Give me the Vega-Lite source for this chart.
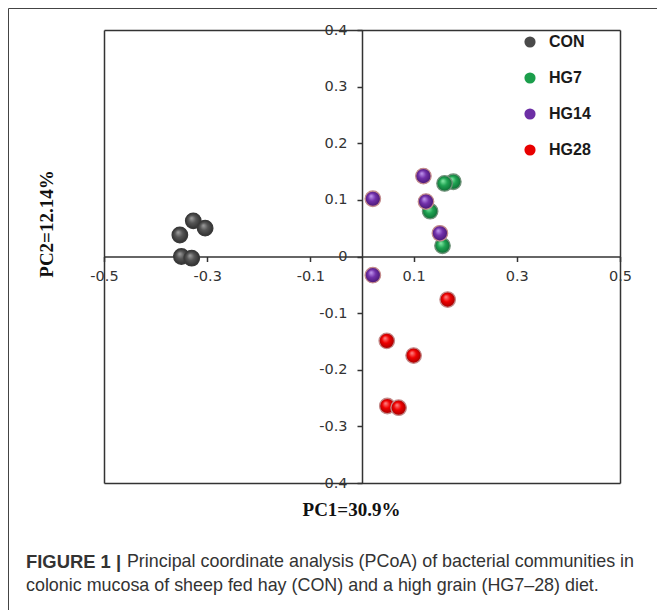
{
  "$schema": "https://vega.github.io/schema/vega-lite/v6.json",
  "autosize": {"type": "none"},
  "padding": {"left": 8, "top": 8, "right": 0, "bottom": 0},
  "width": 649,
  "height": 602,
  "background": "white",
  "view": {"stroke": "#444444", "strokeWidth": 1, "fill": "white"},
  "config": {
    "view": {"stroke": "#444444", "strokeWidth": 1},
    "axis": {
      "grid": false,
      "domainColor": "#333333",
      "domainWidth": 1.5,
      "tickColor": "#333333",
      "tickWidth": 1.5,
      "tickSize": 5,
      "labelFont": "DejaVu Sans",
      "labelFontSize": 14.5,
      "labelColor": "#333333",
      "labelFlush": false,
      "labelOverlap": false,
      "labelBound": false,
      "titleFont": "Liberation Serif",
      "titleFontWeight": "bold",
      "titleFontSize": 19,
      "titleColor": "#111111"
    }
  },
  "title": {
    "text": "FIGURE 1 |",
    "subtitle": [
      "\u200b\u00a0\u00a0\u00a0\u00a0\u00a0\u00a0\u00a0\u00a0\u00a0\u00a0\u00a0\u00a0\u00a0\u00a0\u00a0\u00a0\u00a0\u00a0\u00a0\u00a0\u200aPrincipal coordinate analysis (PCoA) of bacterial communities in",
      "colonic mucosa of sheep fed hay (CON) and a high grain (HG7\u201328) diet."
    ],
    "orient": "bottom",
    "frame": "group",
    "anchor": "start",
    "offset": -57,
    "dx": 18,
    "font": "Liberation Sans",
    "fontSize": 18.4,
    "fontWeight": "bold",
    "color": "#333333",
    "subtitleFont": "Liberation Sans",
    "subtitleFontSize": 17.9,
    "subtitleColor": "#333333",
    "subtitleLineHeight": 23.5,
    "subtitlePadding": -18.2
  },
  "data": {
    "values": [
      {"group": "CON", "pc1": -0.353, "pc2": 0.038},
      {"group": "CON", "pc1": -0.327, "pc2": 0.063},
      {"group": "CON", "pc1": -0.304, "pc2": 0.050},
      {"group": "CON", "pc1": -0.350, "pc2": 0.000},
      {"group": "CON", "pc1": -0.330, "pc2": -0.003},
      {"group": "HG7", "pc1": 0.177, "pc2": 0.132},
      {"group": "HG7", "pc1": 0.160, "pc2": 0.129},
      {"group": "HG7", "pc1": 0.132, "pc2": 0.080},
      {"group": "HG7", "pc1": 0.156, "pc2": 0.019},
      {"group": "HG14", "pc1": 0.021, "pc2": 0.102},
      {"group": "HG14", "pc1": 0.021, "pc2": -0.033},
      {"group": "HG14", "pc1": 0.119, "pc2": 0.142},
      {"group": "HG14", "pc1": 0.124, "pc2": 0.097},
      {"group": "HG14", "pc1": 0.151, "pc2": 0.041},
      {"group": "HG28", "pc1": 0.166, "pc2": -0.076},
      {"group": "HG28", "pc1": 0.048, "pc2": -0.149},
      {"group": "HG28", "pc1": 0.100, "pc2": -0.175},
      {"group": "HG28", "pc1": 0.049, "pc2": -0.264},
      {"group": "HG28", "pc1": 0.071, "pc2": -0.267}
    ]
  },
  "resolve": {
    "scale": {"x": "independent", "y": "independent"},
    "axis": {"x": "independent", "y": "independent"}
  },
  "layer": [
    {
      "mark": {"type": "point", "shape": "circle", "filled": true, "size": 230, "opacity": 1},
      "encoding": {
        "x": {
          "field": "pc1",
          "type": "quantitative",
          "scale": {"domain": [-0.5, 0.5], "range": [96, 612], "nice": false, "zero": false},
          "axis": {
            "orient": "bottom",
            "offset": -353.5,
            "values": [-0.5, -0.3, -0.1, 0.1, 0.3, 0.5],
            "labelExpr": "'' + datum.value",
            "labelPadding": 8,
            "title": "PC1=30.9%",
            "titleX": 343,
            "titleY": 252.5,
            "titleBaseline": "middle",
            "titleAlign": "center"
          }
        },
        "y": {
          "field": "pc2",
          "type": "quantitative",
          "scale": {"domain": [-0.4, 0.4], "range": [475, 22], "nice": false, "zero": false},
          "axis": {
            "orient": "left",
            "offset": -354,
            "values": [-0.4, -0.3, -0.2, -0.1, 0, 0.1, 0.2, 0.3, 0.4],
            "labelExpr": "'' + datum.value",
            "labelPadding": 10,
            "title": "PC2=12.14%",
            "titleAngle": -90,
            "titleX": -315.5,
            "titleY": 215.5,
            "titleBaseline": "middle",
            "titleAlign": "center"
          }
        },
        "color": {
          "field": "group",
          "type": "nominal",
          "scale": {"domain": ["CON", "HG7", "HG14", "HG28"], "range": ["#4a4a4a", "#1b9e4b", "#6d2fa5", "#e80000"]},
          "legend": {
            "title": null,
            "orient": "none",
            "legendX": 514,
            "legendY": 26,
            "padding": 0,
            "symbolSize": 125,
            "symbolStrokeWidth": 0,
            "symbolOpacity": 1,
            "labelFont": "Liberation Sans",
            "labelFontSize": 16,
            "labelFontWeight": "bold",
            "labelColor": "#1a1a1a",
            "labelOffset": 11,
            "rowPadding": 20,
            "encode": {
              "symbols": {
                "update": {
                  "fill": {
                    "signal": "datum.label === 'CON' ? {gradient: 'radial', x1: 0.38, y1: 0.32, r1: 0, x2: 0.5, y2: 0.5, r2: 0.55, stops: [{offset: 0, color: '#a2a2a2'}, {offset: 0.45, color: '#555555'}, {offset: 1, color: '#2c2c2c'}]} : datum.label === 'HG7' ? {gradient: 'radial', x1: 0.38, y1: 0.32, r1: 0, x2: 0.5, y2: 0.5, r2: 0.55, stops: [{offset: 0, color: '#8ef0ad'}, {offset: 0.45, color: '#1fa352'}, {offset: 1, color: '#0b6630'}]} : datum.label === 'HG14' ? {gradient: 'radial', x1: 0.38, y1: 0.32, r1: 0, x2: 0.5, y2: 0.5, r2: 0.55, stops: [{offset: 0, color: '#c49cf2'}, {offset: 0.45, color: '#7230aa'}, {offset: 1, color: '#42146c'}]} : {gradient: 'radial', x1: 0.38, y1: 0.32, r1: 0, x2: 0.5, y2: 0.5, r2: 0.55, stops: [{offset: 0, color: '#ff8c8c'}, {offset: 0.45, color: '#f00000'}, {offset: 1, color: '#980000'}]}"
                  }
                }
              }
            }
          }
        }
      }
    },
    {
      "transform": [{"filter": "datum.group === 'CON' || datum.group === 'HG7'"}],
      "mark": {"type": "point", "shape": "circle", "filled": true, "size": 240, "opacity": 1, "strokeWidth": 1.3},
      "encoding": {
        "x": {
          "field": "pc1",
          "type": "quantitative",
          "scale": {"domain": [-0.5, 0.5], "range": [96, 612], "nice": false, "zero": false},
          "axis": {"orient": "bottom", "offset": -127, "labels": false, "ticks": false, "title": null}
        },
        "y": {
          "field": "pc2",
          "type": "quantitative",
          "scale": {"domain": [-0.4, 0.4], "range": [475, 22], "nice": false, "zero": false},
          "axis": {"orient": "left", "offset": -96, "labels": false, "ticks": false, "title": null}
        },
        "fill": {
          "condition": [
            {"test": "datum.group === 'CON'", "value": {"gradient": "radial", "x1": 0.38, "y1": 0.32, "r1": 0, "x2": 0.5, "y2": 0.5, "r2": 0.55, "stops": [{"offset": 0, "color": "#a2a2a2"}, {"offset": 0.45, "color": "#555555"}, {"offset": 1, "color": "#2c2c2c"}]}}
          ],
          "value": {"gradient": "radial", "x1": 0.38, "y1": 0.32, "r1": 0, "x2": 0.5, "y2": 0.5, "r2": 0.55, "stops": [{"offset": 0, "color": "#8ef0ad"}, {"offset": 0.45, "color": "#1fa352"}, {"offset": 1, "color": "#0b6630"}]}
        },
        "stroke": {
          "condition": [{"test": "datum.group === 'CON'", "value": "#3a3a3a"}],
          "value": "#72927b"
        }
      }
    },
    {
      "transform": [{"filter": "datum.group === 'HG14' || datum.group === 'HG28'"}],
      "mark": {"type": "point", "shape": "circle", "filled": true, "size": 240, "opacity": 1, "strokeWidth": 1.3, "stroke": "#c48c8c"},
      "encoding": {
        "x": {
          "field": "pc1",
          "type": "quantitative",
          "scale": {"domain": [-0.5, 0.5], "range": [96, 612], "nice": false, "zero": false},
          "axis": {"orient": "top", "offset": -22, "labels": false, "ticks": false, "title": null}
        },
        "y": {
          "field": "pc2",
          "type": "quantitative",
          "scale": {"domain": [-0.4, 0.4], "range": [475, 22], "nice": false, "zero": false},
          "axis": {"orient": "right", "offset": -37, "labels": false, "ticks": false, "title": null}
        },
        "fill": {
          "condition": [
            {"test": "datum.group === 'HG14'", "value": {"gradient": "radial", "x1": 0.38, "y1": 0.32, "r1": 0, "x2": 0.5, "y2": 0.5, "r2": 0.55, "stops": [{"offset": 0, "color": "#c49cf2"}, {"offset": 0.45, "color": "#7230aa"}, {"offset": 1, "color": "#42146c"}]}}
          ],
          "value": {"gradient": "radial", "x1": 0.38, "y1": 0.32, "r1": 0, "x2": 0.5, "y2": 0.5, "r2": 0.55, "stops": [{"offset": 0, "color": "#ff8c8c"}, {"offset": 0.45, "color": "#f00000"}, {"offset": 1, "color": "#980000"}]}
        }
      }
    }
  ]
}
